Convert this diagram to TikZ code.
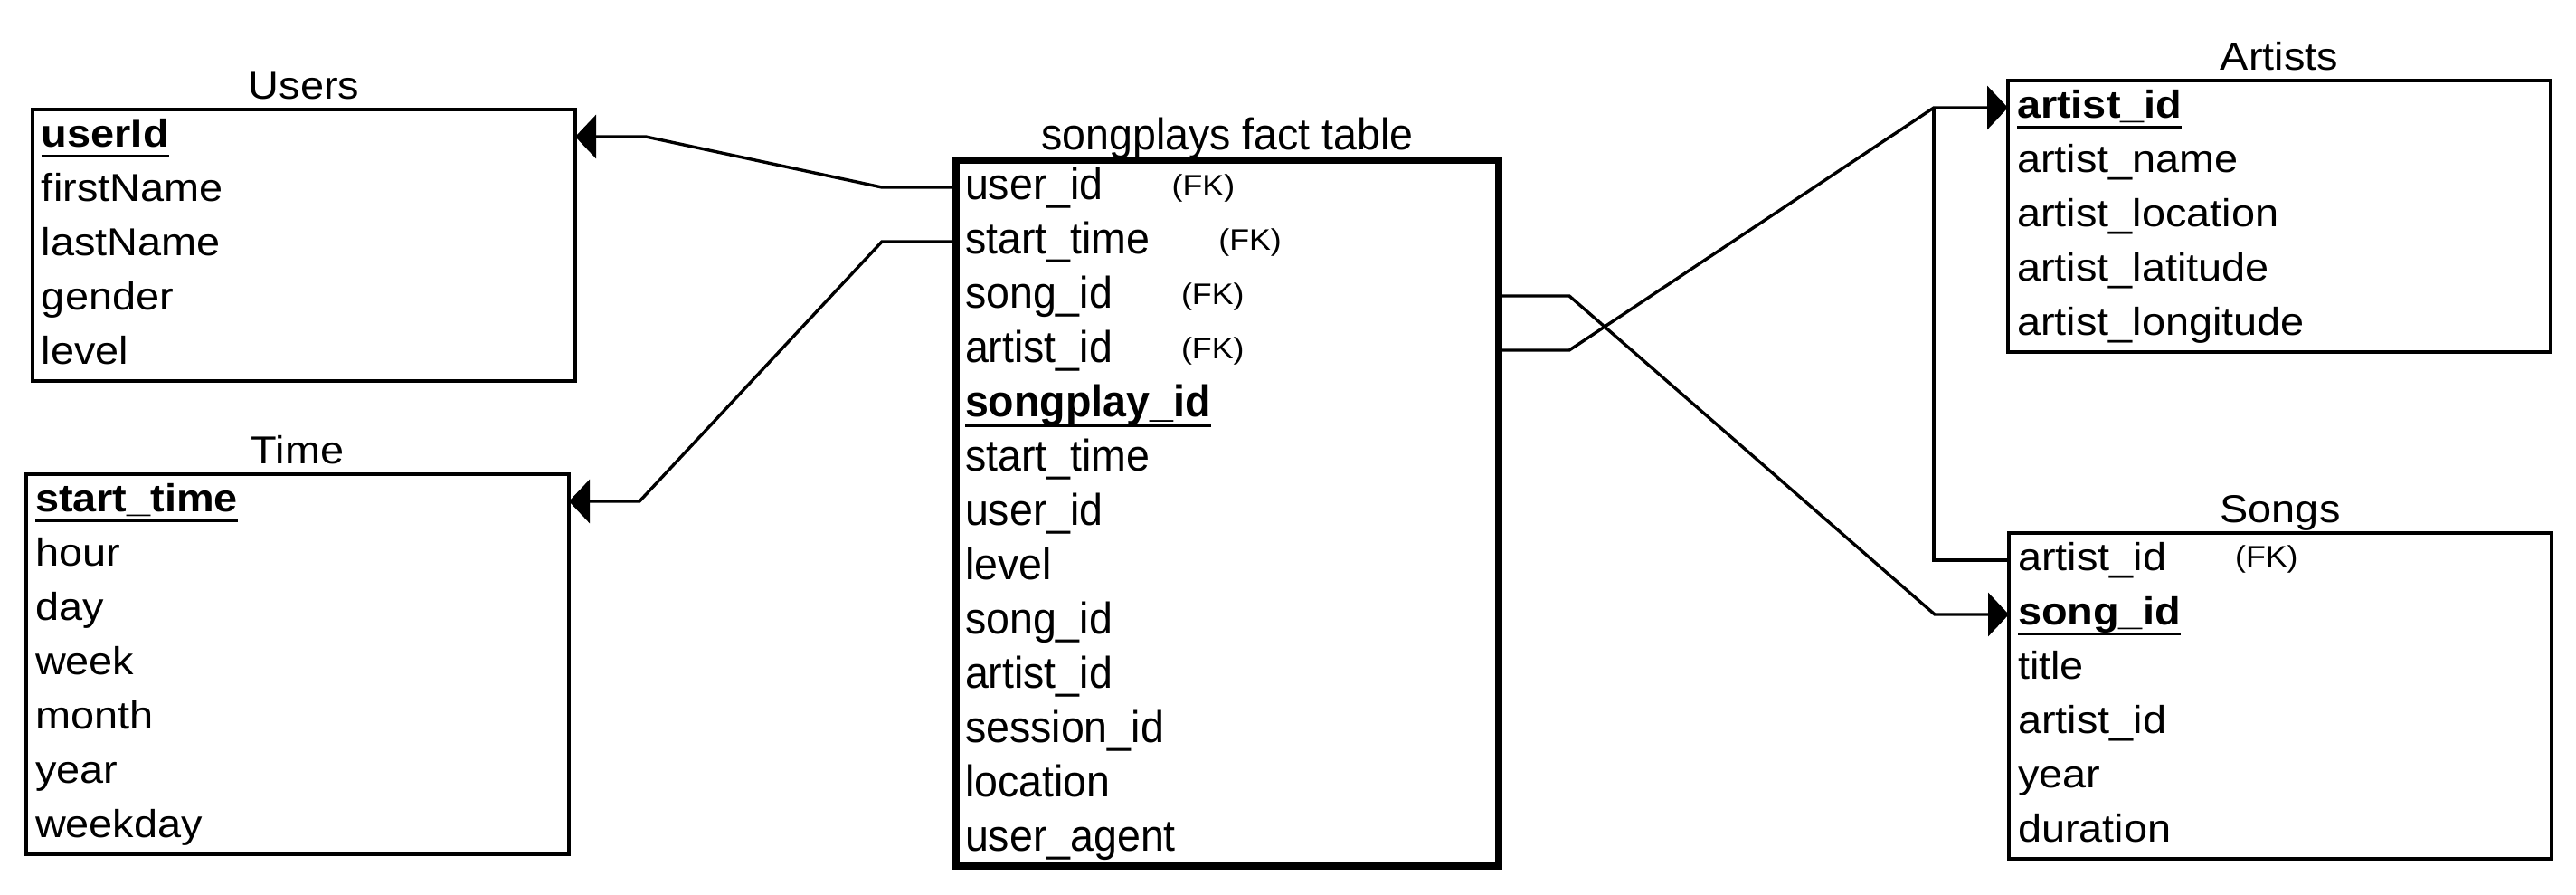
\documentclass[tikz,border=0pt]{standalone}
\usepackage{fontspec}
\setmainfont{Liberation Sans}
\newfontfamily\sidefont[FakeStretch=1.09]{Liberation Sans}
\newfontfamily\factfont[FakeStretch=0.95]{Liberation Sans}
\usetikzlibrary{arrows.meta,positioning}

\newcommand\sidetext{\sidefont\fontsize{10.75pt}{15pt}\selectfont}
\newcommand\facttext{\factfont\fontsize{12.25pt}{15pt}\selectfont}
\newcommand\fk{\hspace{19pt}\raisebox{1pt}{\sidefont\fontsize{8.2pt}{10pt}\selectfont(FK)}}
\newsavebox\pkbox
\newcommand\pk[1]{\sbox\pkbox{\textbf{#1}}%
  \rlap{\rule[-3pt]{\wd\pkbox}{0.8pt}}\usebox\pkbox}

\begin{document}
\begin{tikzpicture}[>={Triangle[length=5.75pt,width=12pt]},
  tbl/.style={draw,line width=0.85pt,anchor=north west,outer sep=0pt,
    inner sep=0pt,minimum width=150pt},
  facttbl/.style={tbl,line width=2pt},
  row/.style={anchor=north west,outer sep=0pt,inner xsep=2.5pt,inner ysep=0pt,
    text width=145pt,align=left,text height=10.25pt,text depth=4.75pt,
    font=\sidetext},
  factrow/.style={row,text height=10.75pt,text depth=4.25pt,font=\facttext},
  ttl/.style={inner sep=0pt,font=\sidetext},
  link/.style={line width=0.85pt}]
\useasboundingbox (0,0) rectangle (712pt,-247pt);

% tables
\node[tbl,minimum height=75pt] (users) at (9pt,-30.25pt) {};
\node[tbl,minimum height=105pt] (time) at (7.25pt,-131pt) {};
\node[facttbl,minimum height=195pt] (fact) at (264.25pt,-44.25pt) {};
\node[tbl,minimum height=75pt] (artists) at (555pt,-22.25pt) {};
\node[tbl,minimum height=90pt] (songs) at (555.25pt,-147.25pt) {};

\node[ttl,above=3pt of users.north,anchor=base] (users-t) {Users};
\node[ttl,above=3pt of time.north,anchor=base] (time-t) {Time};
\node[ttl,font=\facttext,above=3pt of fact.north,anchor=base] (fact-t)
  {songplays fact table};
\node[ttl,above=3pt of artists.north,anchor=base] (artists-t) {Artists};
\node[ttl,above=3pt of songs.north,anchor=base] (songs-t) {Songs};

% rows
\foreach \f [count=\i,evaluate=\i as \dy using 15*(\i-1)] in
  {\pk{userId},firstName,lastName,gender,level}
  \node[row,below right=\dy pt and 0pt of users.north west] (users-\i) {\f};
\foreach \f [count=\i,evaluate=\i as \dy using 15*(\i-1)] in
  {\pk{start\_time},hour,day,week,month,year,weekday}
  \node[row,below right=\dy pt and 0pt of time.north west] (time-\i) {\f};
\foreach \f [count=\i,evaluate=\i as \dy using 15*(\i-1)] in
  {user\_id\fk,start\_time\fk,song\_id\fk,artist\_id\fk,\pk{songplay\_id},
   start\_time,user\_id,level,song\_id,artist\_id,session\_id,location,user\_agent}
  \node[factrow,below right=\dy pt and 0pt of fact.north west] (fact-\i) {\f};
\foreach \f [count=\i,evaluate=\i as \dy using 15*(\i-1)] in
  {\pk{artist\_id},artist\_name,artist\_location,artist\_latitude,artist\_longitude}
  \node[row,below right=\dy pt and 0pt of artists.north west] (artists-\i) {\f};
\foreach \f [count=\i,evaluate=\i as \dy using 15*(\i-1)] in
  {artist\_id\fk,\pk{song\_id},title,artist\_id,year,duration}
  \node[row,below right=\dy pt and 0pt of songs.north west] (songs-\i) {\f};

% links
\draw[link,->] (fact-1.west) -- ++(-20.5pt,0) -- ([xshift=19.5pt]users-1.east)
  -- (users-1.east);
\draw[link,->] (fact-2.west) -- ++(-20.5pt,0) -- ([xshift=19.5pt]time-1.east)
  -- (time-1.east);
\draw[link,->] (fact-3.east) -- ++(19.5pt,0) -- ([xshift=-20.5pt]songs-2.west)
  -- (songs-2.west);
\draw[link,->] (fact-4.east) -- ++(19.5pt,0) -- ([xshift=-20.5pt]artists-1.west)
  -- (artists-1.west);
\draw[link] (songs-1.west) -| ([xshift=-20.5pt]artists-1.west);
\end{tikzpicture}
\end{document}
